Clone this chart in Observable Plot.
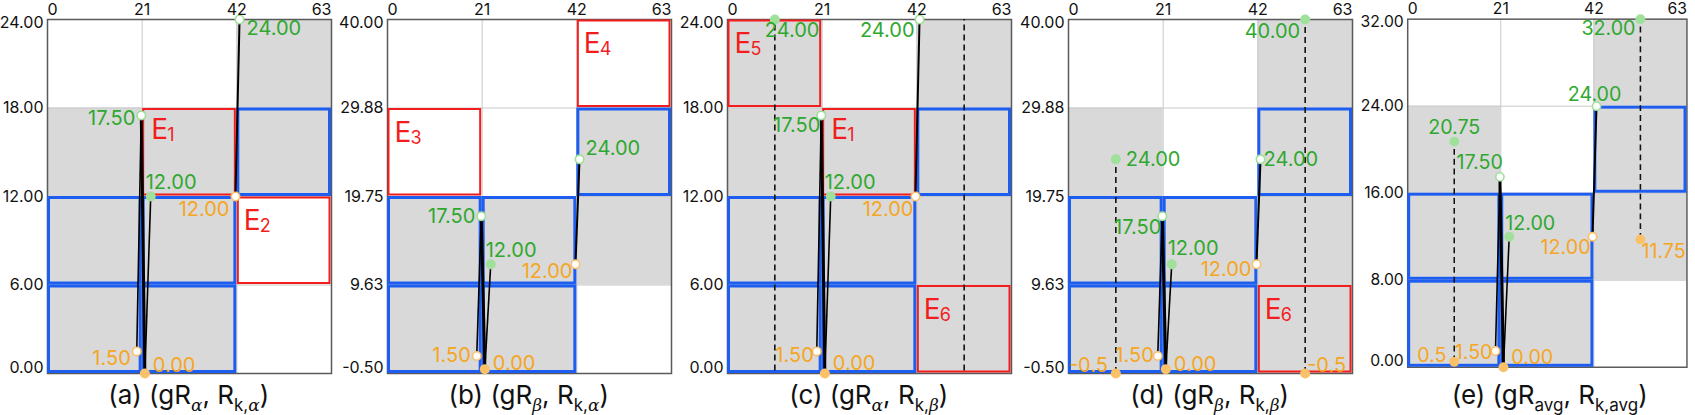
<!DOCTYPE html>
<html><head><meta charset="utf-8">
<script src="https://cdn.jsdelivr.net/npm/d3@7"></script>
<script src="https://cdn.jsdelivr.net/npm/@observablehq/plot@0.6"></script>
<style>
body{margin:0;background:#fff;font-family:Inter,"Noto Sans",sans-serif;}
#root{position:relative;width:1695px;height:415px;overflow:hidden;}
.panel{position:absolute;top:0;}
.cap{position:absolute;top:380px;width:320px;text-align:center;font-size:26px;line-height:30px;color:#111;white-space:nowrap;}
.cap sub{font-size:17px;vertical-align:-7px;line-height:0;}
.cap i{font-family:"DejaVu Serif",serif;font-style:italic;}
</style></head><body><div id="root"></div>
<script>
// ---------- data ----------
const xTicks = [0, 21, 42, 63];
const yTicksA = [0, 6, 12, 18, 24];
const yTicksB = [-0.5, 9.625, 19.75, 29.875, 40];
const yTicksE = [0, 8, 16, 24, 32];
const yLabelsA = ["0.00", "6.00", "12.00", "18.00", "24.00"];
const yLabelsB = ["-0.50", "9.63", "19.75", "29.88", "40.00"];
const yLabelsE = ["0.00", "8.00", "16.00", "24.00", "32.00"];

// shaded cells [column, row]
const grayA = [[0,0],[1,0],[0,1],[1,1],[0,2],[1,2],[2,2],[2,3]];
const grayB = [[0,0],[1,0],[0,1],[1,1],[2,1],[2,2]];
const grayC = [[0,0],[1,0],[2,0],[0,1],[1,1],[2,1],[0,2],[1,2],[2,2],[0,3],[2,3]];
const grayD = [[0,0],[1,0],[2,0],[0,1],[1,1],[2,1],[0,2],[2,2],[2,3]];
const grayE = [[0,0],[1,0],[0,1],[1,1],[2,1],[0,2],[2,2],[2,3]];
// blue outlined cells
const blueCells = [[0,0],[1,0],[0,1],[1,1],[2,2]];
// red outlined cells [column, row, subscript]
const redA = [[1,2,"1"],[2,1,"2"]];
const redB = [[0,2,"3"],[2,3,"4"]];
const redC = [[0,3,"5"],[1,2,"1"],[2,0,"6"]];
const redD = [[2,0,"6"]];
const redE = [];

// trace points
const traceIds = ["o1", "o0", "g17", "g12", "o12", "g24"];
const traceX = [19.8, 21.6, 20.8, 22.9, 41.7, 42.6];
const traceY = [1.5, 0, 17.5, 12, 12, 24];
const traceLabels = ["1.50", "0.00", "17.50", "12.00", "12.00", "24.00"];
const traceKind = ["start", "start", "end", "end", "start", "end"];
const traceFilled = [false, true, false, true, false, false];
const segFrom = [0, 1, 1, 4];
const segTo = [2, 2, 3, 5];

// dashed verticals
const dashX = [10.5, 52.5];
const dashLoCD = [-0.5, -0.5];
const dashHiCD = [24, 40];
const dashLoLabelCD = ["-0.5", "-0.5"];
const dashHiLabelCD = ["24.00", "40.00"];
const dashLoE = [0.5, 11.75];
const dashHiE = [20.75, 32];
const dashLoLabelE = ["0.5", "11.75"];
const dashHiLabelE = ["20.75", "32.00"];

const capLetters = ["a", "b", "c", "d", "e"];
const capG = ["α", "β", "α", "β", "avg"];
const capR = ["α", "α", "β", "β", "avg"];

// ---------- style ----------
const GRAY = "#d9d9d9", GRID = "#c9c9c9", FRAME = "#5a5a5a";
const BLUE = "#1d5ef0", RED = "#f31d1d";
const GREEN_T = "#2fa82f", GREEN_F = "#9fe09a";
const ORANGE_T = "#f5a623", ORANGE_F = "#fbc168";
const segWidth = [1.6, 3, 1.6, 2];
const plotLefts = [46.7, 386.7, 726.7, 1067.7, 1407.7];
const ML = 47, MR = 9, W = 340, H = 380, MT = 19, MB = 7;
const LABEL_FS = 20, TICK_FS = 16;

const place = [
  {o1:["end",-6,7], o0:["start",8,-8], g17:["end",-6,3], g12:["start",-5,-14], o12:["end",-6,13], g24:["start",7,9]},
  {o1:["end",-6,0], o0:["start",8,-6], g17:["end",-6,0], g12:["start",-5,-14], o12:["end",-3,7], g24:["start",6,-11]},
  {o1:["end",-3,4], o0:["start",8,-10], g17:["end",-1,10], g12:["start",-6,-14], o12:["end",-2,13], g24:["end",-5,11],
   lo0:["end",-8,-8], hi0:["start",-10,11], lo1:["start",2,-8], hi1:["end",-5,12]},
  {o1:["end",-4,0], o0:["start",8,-5], g17:["end",-1,11], g12:["start",-4,-16], o12:["end",-5,5], g24:["start",3,0],
   lo0:["end",-8,-8], hi0:["start",10,0], lo1:["start",2,-8], hi1:["end",-5,12]},
  {o1:["end",-3,2], o0:["start",8,-10], g17:["end",3,-14], g12:["start",-4,-13], o12:["end",-2,11], g24:["middle",-2,-12],
   lo0:["end",-8,-6], hi0:["middle",0,-14], lo1:["start",1,12], hi1:["end",-5,10]}
];

const panelDefs = [
  {yT: yTicksA, yL: yLabelsA, gray: grayA, red: redA, dash: null},
  {yT: yTicksB, yL: yLabelsB, gray: grayB, red: redB, dash: null},
  {yT: yTicksA, yL: yLabelsA, gray: grayC, red: redC, dash: [dashLoCD, dashHiCD, dashLoLabelCD, dashHiLabelCD]},
  {yT: yTicksB, yL: yLabelsB, gray: grayD, red: redD, dash: [dashLoCD, dashHiCD, dashLoLabelCD, dashHiLabelCD]},
  {yT: yTicksE, yL: yLabelsE, gray: grayE, red: redE, dash: [dashLoE, dashHiE, dashLoLabelE, dashHiLabelE]}
];

const root = document.getElementById("root");

panelDefs.forEach((p, pi) => {
  const yT = p.yT;
  const ymin = yT[0], ymax = yT[yT.length - 1];
  const cx1 = d => xTicks[d[0]], cx2 = d => xTicks[d[0] + 1];
  const cy1 = d => yT[d[1]], cy2 = d => yT[d[1] + 1];
  const pts = traceIds.map((id, i) => ({id, x: traceX[i], y: traceY[i], label: traceLabels[i], kind: traceKind[i], filled: traceFilled[i]}));
  const marks = [];
  marks.push(Plot.rect(p.gray, {x1: cx1, x2: cx2, y1: cy1, y2: cy2, fill: GRAY}));
  marks.push(Plot.ruleX(xTicks.slice(1, -1), {stroke: GRID, strokeWidth: 1}));
  marks.push(Plot.ruleY(yT.slice(1, -1), {stroke: GRID, strokeWidth: 1}));
  marks.push(Plot.frame({stroke: FRAME, strokeWidth: 1.5}));
  marks.push(Plot.rect(blueCells, {x1: cx1, x2: cx2, y1: cy1, y2: cy2, fill: "none", stroke: BLUE, strokeWidth: 3, inset: 1.5}));
  marks.push(Plot.rect(p.red, {x1: cx1, x2: cx2, y1: cy1, y2: cy2, fill: "none", stroke: RED, strokeWidth: 2, inset: 1.5}));
  p.red.forEach(r => {
    const off = r[2] === "1" ? [9, 11] : [7, 14];
    marks.push(Plot.text([r], {x: cx1, y: cy2, text: () => "E", textAnchor: "start", lineAnchor: "top", dx: off[0], dy: off[1], fontSize: 28, fill: RED}));
    marks.push(Plot.text([r], {x: cx1, y: cy2, text: d => d[2], textAnchor: "start", lineAnchor: "top", dx: off[0] + 16, dy: off[1] + 9, fontSize: 18, fill: RED}));
  });
  // dashed verticals
  let dpts = [];
  if (p.dash) {
    const [lo, hi, loL, hiL] = p.dash;
    const dd = dashX.map((x, i) => ({x, lo: lo[i], hi: hi[i]}));
    marks.push(Plot.ruleX(dd, {x: "x", y1: "lo", y2: "hi", stroke: "#111", strokeWidth: 1.6, strokeDasharray: "6,4", clip: true}));
    dashX.forEach((x, i) => {
      dpts.push({id: "lo" + i, x, y: lo[i], label: loL[i], kind: "start", filled: true});
      dpts.push({id: "hi" + i, x, y: hi[i], label: hiL[i], kind: "end", filled: true});
    });
    dpts = dpts.filter(d => d.y >= ymin && d.y <= ymax);
  }
  // segments
  segFrom.forEach((f, i) => {
    const s = {x1: traceX[f], y1: traceY[f], x2: traceX[segTo[i]], y2: traceY[segTo[i]]};
    marks.push(Plot.link([s], {x1: "x1", y1: "y1", x2: "x2", y2: "y2", stroke: "#000", strokeWidth: segWidth[i]}));
  });
  const allPts = pts.concat(dpts);
  marks.push(Plot.dot(allPts.filter(d => !d.filled), {x: "x", y: "y", r: 4.2, fill: "white", stroke: d => d.kind === "start" ? ORANGE_F : GREEN_F, strokeWidth: 1.6}));
  marks.push(Plot.dot(allPts.filter(d => d.filled), {x: "x", y: "y", r: 5, fill: d => d.kind === "start" ? ORANGE_F : GREEN_F}));
  allPts.forEach(d => {
    const pl = place[pi][d.id];
    marks.push(Plot.text([d], {x: "x", y: "y", text: "label", textAnchor: pl[0], dx: pl[1], dy: pl[2], fontSize: LABEL_FS, fill: d.kind === "start" ? ORANGE_T : GREEN_T}));
  });
  // tick labels
  xTicks.forEach((t, i) => {
    const anchor = i === 0 ? "start" : i === xTicks.length - 1 ? "end" : "middle";
    marks.push(Plot.text([t], {x: d => d, y: () => ymax, text: d => String(d), textAnchor: anchor, dy: -10, fontSize: TICK_FS, fill: "#111"}));
  });
  yT.forEach((t, i) => {
    const dy = i === 0 ? -6 : i === yT.length - 1 ? 3 : 0;
    marks.push(Plot.text([t], {x: () => 0, y: d => d, text: () => p.yL[i], textAnchor: "end", dx: -4, dy, fontSize: TICK_FS, fill: "#111"}));
  });

  const svg = Plot.plot({
    width: W, height: H, marginLeft: ML, marginRight: MR, marginTop: MT, marginBottom: MB,
    x: {domain: [0, 63], axis: null},
    y: {domain: [ymin, ymax], axis: null},
    style: {fontFamily: "Inter, 'Noto Sans', sans-serif", overflow: "visible", background: "transparent"},
    marks
  });
  const wrap = document.createElement("div");
  wrap.className = "panel";
  wrap.style.left = (plotLefts[pi] - ML) + "px";
  wrap.appendChild(svg);
  root.appendChild(wrap);

  const cap = document.createElement("div");
  cap.className = "cap";
  const center = plotLefts[pi] + (W - ML - MR) / 2;
  cap.style.left = (center - 160) + "px";
  const g = capG[pi], r = capR[pi];
  const fmt = s => s === "avg" ? s : "<i>" + s + "</i>";
  cap.innerHTML = "(" + capLetters[pi] + ") (gR<sub>" + fmt(g) + "</sub>, R<sub>k," + fmt(r) + "</sub>)";
  root.appendChild(cap);
});
</script></body></html>
